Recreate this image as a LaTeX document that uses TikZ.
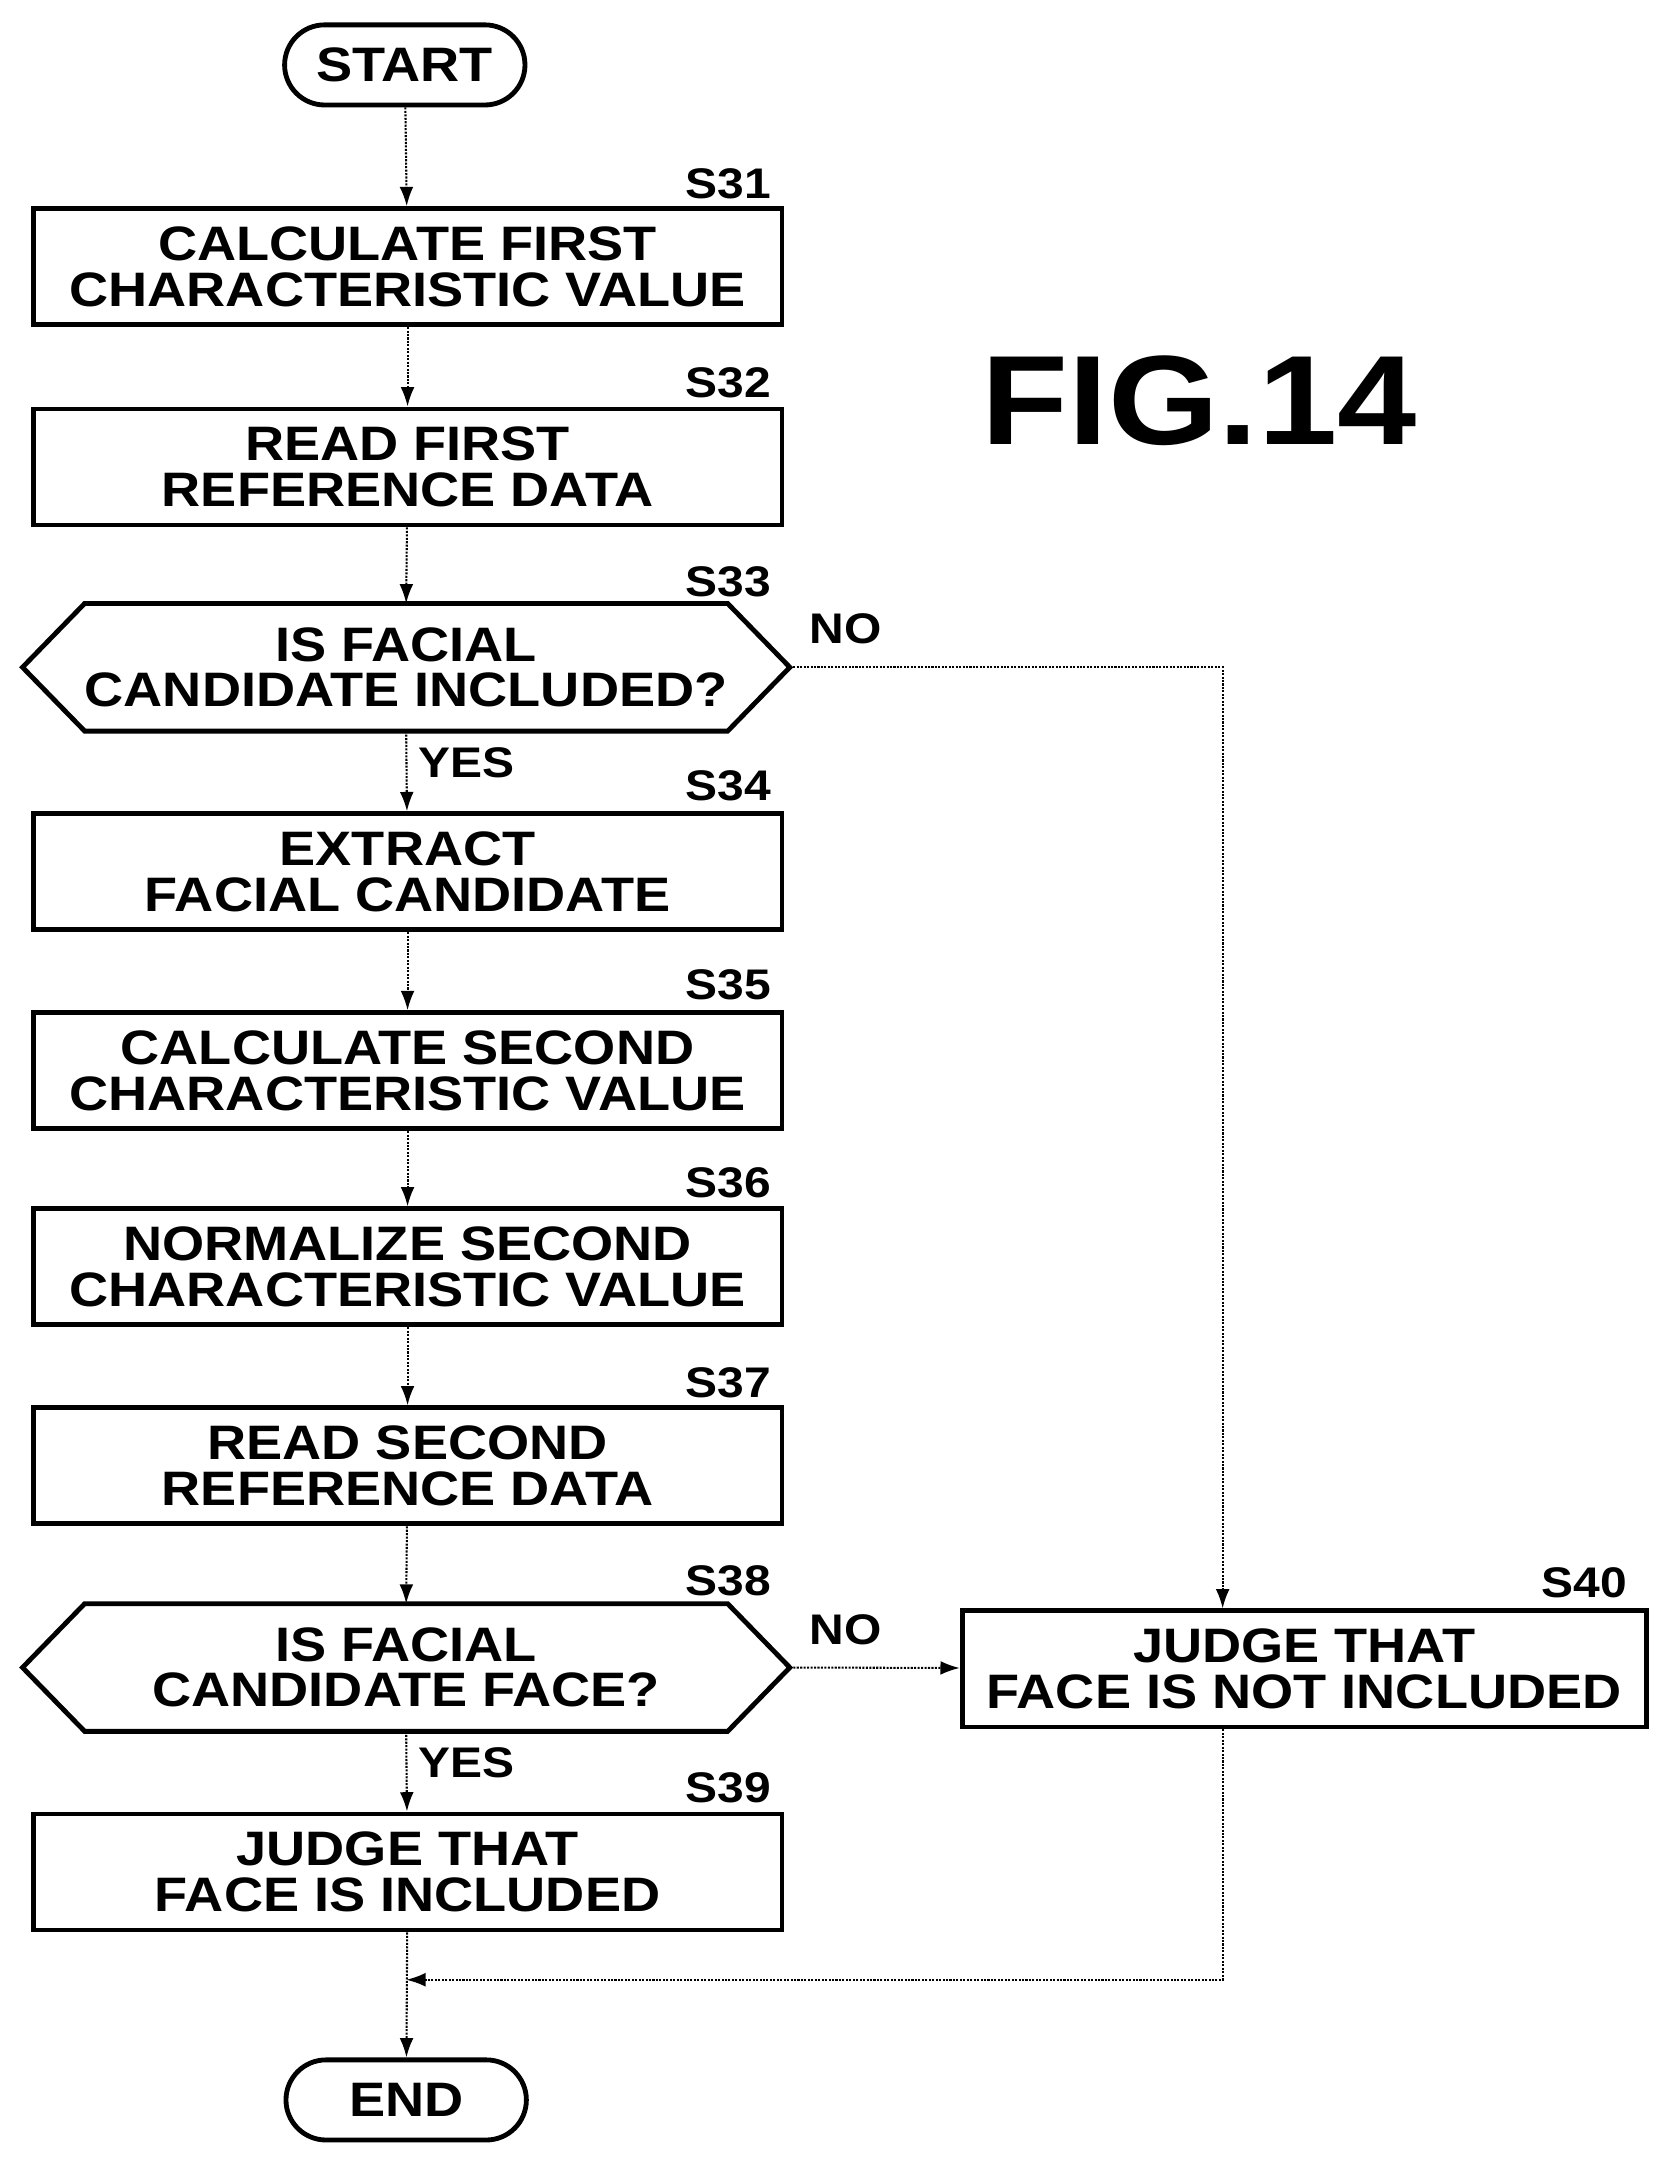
\documentclass[tikz,border=0pt]{standalone}
\usepackage{fontspec}
\setmainfont{Liberation Sans}[FakeStretch=1.12]
\usetikzlibrary{arrows.meta,shapes.misc}
\begin{document}
\begin{tikzpicture}[x=1pt,y=-1pt,
  txt/.style={font=\fontsize{35}{33}\selectfont\bfseries,align=center,inner sep=0},
  box/.style={txt,draw,line width=3.5pt,minimum width=542pt,minimum height=84pt},
  hex/.style={txt,minimum width=555pt,minimum height=92pt},
  term/.style={txt,draw,line width=3.5pt,rounded corners=29pt,minimum width=174pt,minimum height=58pt},
  lab/.style={font=\fontsize{31}{31}\selectfont\bfseries,inner sep=0},
  ar/.style={line width=1.5pt,densely dotted,-{Latex[length=14pt,width=10pt]}},
  ln/.style={line width=1.5pt,densely dotted}]
\useasboundingbox (0,0) rectangle (1210,1570);
\node[term] (start) at (293,47) {START};
\node[box] (s31) at (295,193) {CALCULATE FIRST\\CHARACTERISTIC VALUE};
\node[box] (s32) at (295,338) {READ FIRST\\REFERENCE DATA};
\node[hex] (s33) at (294,483) {IS FACIAL\\CANDIDATE INCLUDED?};
\node[box] (s34) at (295,631) {EXTRACT\\FACIAL CANDIDATE};
\node[box] (s35) at (295,775) {CALCULATE SECOND\\CHARACTERISTIC VALUE};
\node[box] (s36) at (295,917) {NORMALIZE SECOND\\CHARACTERISTIC VALUE};
\node[box] (s37) at (295,1061) {READ SECOND\\REFERENCE DATA};
\node[hex] (s38) at (294,1207) {IS FACIAL\\CANDIDATE FACE?};
\node[box] (s39) at (295,1355) {JUDGE THAT\\FACE IS INCLUDED};
\node[box,minimum width=495pt] (s40) at (944,1208) {JUDGE THAT\\FACE IS NOT INCLUDED};
\node[term] (end) at (294,1520) {END};
\foreach \h in {s33,s38}{
  \draw[line width=3.5pt] (\h.west) -- ([xshift=45pt]\h.north west) -- ([xshift=-45pt]\h.north east) -- (\h.east) -- ([xshift=-45pt]\h.south east) -- ([xshift=45pt]\h.south west) -- cycle;}
\node[lab] at (527,133) {S31};
\node[lab] at (527,277) {S32};
\node[lab] at (527,421) {S33};
\node[lab] at (527,569) {S34};
\node[lab] at (527,713) {S35};
\node[lab] at (527,856) {S36};
\node[lab] at (527,1001) {S37};
\node[lab] at (527,1144) {S38};
\node[lab] at (527,1294) {S39};
\node[lab] at (1147,1146) {S40};
\node[lab] (no1) at (612,455) {NO};
\node[lab] (no2) at (612,1180) {NO};
\node[lab] (yes1) at (338,552) {YES};
\node[lab] (yes2) at (338,1276) {YES};
\node[font=\fontsize{92}{92}\selectfont\bfseries,inner sep=0] (fig) at (868,290) {FIG.14};
\draw[ar] (start) -- (s31);
\draw[ar] (s31) -- (s32);
\draw[ar] (s32) -- (s33.north);
\draw[ar] (s33.south) -- (s34);
\draw[ar] (s34) -- (s35);
\draw[ar] (s35) -- (s36);
\draw[ar] (s36) -- (s37);
\draw[ar] (s37) -- (s38.north);
\draw[ar] (s38.south) -- (s39);
\draw[ar] (s38.east) -- (s40);
\draw[ar] (s33.east) -| ([xshift=-59pt]s40.north);
\coordinate (m) at (294,1433);
\draw[ar] ([xshift=-59pt]s40.south) |- (m);
\draw[ar] (s39) -- (end);
\end{tikzpicture}
\end{document}
